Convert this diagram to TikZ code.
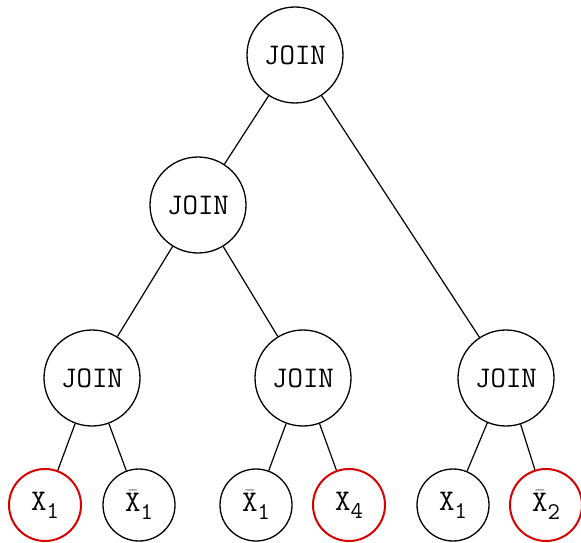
\documentclass[tikz,border=0pt]{standalone}
\usepackage{fontspec}
\newcommand{\subnum}[1]{\raisebox{-8pt}{\fontsize{24}{24}\selectfont #1}}
\newcommand{\barX}{$\bar{\hbox{\ttfamily X}}$}
\begin{document}
\begin{tikzpicture}[x=1pt,y=-1pt,
  joinnode/.style={circle,draw,line width=1.3pt,minimum size=96pt,inner sep=0pt,font=\ttfamily\fontsize{30}{30}\selectfont},
  leafnode/.style={circle,draw,line width=1.3pt,minimum size=72pt,inner sep=0pt,font=\ttfamily\fontsize{30}{30}\selectfont},
  hit/.style={draw=red!85!black,line width=2pt},
  edge/.style={line width=1.2pt}]
\useasboundingbox (0,0) rectangle (581,543);
\node[joinnode] (r) at (295,55) {JOIN};
\node[joinnode] (a) at (198,205) {JOIN};
\node[joinnode] (b) at (92,378) {JOIN};
\node[joinnode] (c) at (303,378) {JOIN};
\node[joinnode] (d) at (506,378) {JOIN};
\node[leafnode,hit] (l1) at (45,505) {X\subnum{1}};
\node[leafnode] (l2) at (139,505) {\barX\subnum{1}};
\node[leafnode] (l3) at (256,505) {\barX\subnum{1}};
\node[leafnode,hit] (l4) at (349,505) {X\subnum{4}};
\node[leafnode] (l5) at (453,505) {X\subnum{1}};
\node[leafnode,hit] (l6) at (546,505) {\barX\subnum{2}};
\draw[edge] (r) -- (a);
\draw[edge] (r) -- (d);
\draw[edge] (a) -- (b);
\draw[edge] (a) -- (c);
\draw[edge] (b) -- (l1);
\draw[edge] (b) -- (l2);
\draw[edge] (c) -- (l3);
\draw[edge] (c) -- (l4);
\draw[edge] (d) -- (l5);
\draw[edge] (d) -- (l6);
\end{tikzpicture}
\end{document}
